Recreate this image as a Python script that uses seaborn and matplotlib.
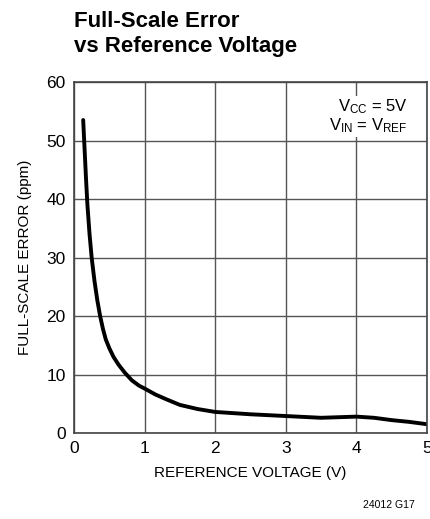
import matplotlib
matplotlib.use("Agg")
import matplotlib.pyplot as plt
import seaborn as sns
import pandas as pd

# values
vref = [0.13, 0.15, 0.17, 0.19, 0.22, 0.25, 0.29, 0.33, 0.37, 0.41, 0.45, 0.50,
        0.56, 0.63, 0.72, 0.82, 0.92, 1.00, 1.15, 1.30, 1.50, 1.75, 2.00, 2.50,
        3.00, 3.50, 3.75, 4.00, 4.25, 4.50, 4.75, 5.00]
fs_error = [53.5, 48.5, 43.5, 39.0, 34.0, 30.0, 26.0, 22.7, 20.0, 17.8, 16.0, 14.5,
            13.0, 11.7, 10.3, 9.0, 8.1, 7.6, 6.6, 5.8, 4.8, 4.1, 3.6, 3.2,
            2.9, 2.6, 2.7, 2.8, 2.6, 2.2, 1.9, 1.5]
xticks = [0, 1, 2, 3, 4, 5]
yticks = [0, 10, 20, 30, 40, 50, 60]

df = pd.DataFrame({"vref": vref, "err": fs_error})

sns.set_style("white", {"text.color": "black", "axes.labelcolor": "black",
                        "xtick.color": "black", "ytick.color": "black"})
font = ["Liberation Sans", "DejaVu Sans"]
plt.rcParams["font.family"] = font
plt.rcParams["mathtext.fontset"] = "custom"
plt.rcParams["mathtext.rm"] = "Liberation Sans"
plt.rcParams["mathtext.it"] = "Liberation Sans"

fig = plt.figure(figsize=(4.31, 5.19), dpi=100)
ax = fig.add_axes([0.1717, 0.1657, 0.819, 0.6763])

sns.lineplot(data=df, x="vref", y="err", ax=ax, color="black", linewidth=2.8)

ax.set_xlim(0, 5)
ax.set_ylim(0, 60)
ax.set_xticks(xticks)
ax.set_yticks(yticks)
ax.tick_params(length=0, labelsize=12.5, pad=6)
ax.grid(True, color="#555555", linewidth=1.0)
for s in ax.spines.values():
    s.set_color("#444444")
    s.set_linewidth(1.2)

ax.set_xlabel("REFERENCE VOLTAGE (V)", fontsize=11, labelpad=7)
ax.set_ylabel("FULL-SCALE ERROR (ppm)", fontsize=11, labelpad=10)

ax.text(0.945, 0.955, r"V$_{\rm CC}$ = 5V" + "\n" + r"V$_{\rm IN}$ = V$_{\rm REF}$",
        transform=ax.transAxes, ha="right", va="top", fontsize=12,
        linespacing=1.0,
        bbox=dict(facecolor="white", edgecolor="none", pad=1))

fig.text(74 / 431, 1 - 11 / 519, "Full-Scale Error\nvs Reference Voltage",
         ha="left", va="top", fontsize=16, fontweight="bold", linespacing=1.25)
fig.text(415 / 431, 1 - 505 / 519, "24012 G17", ha="right", va="center", fontsize=7.5)

fig.savefig("out.png", dpi=100)
